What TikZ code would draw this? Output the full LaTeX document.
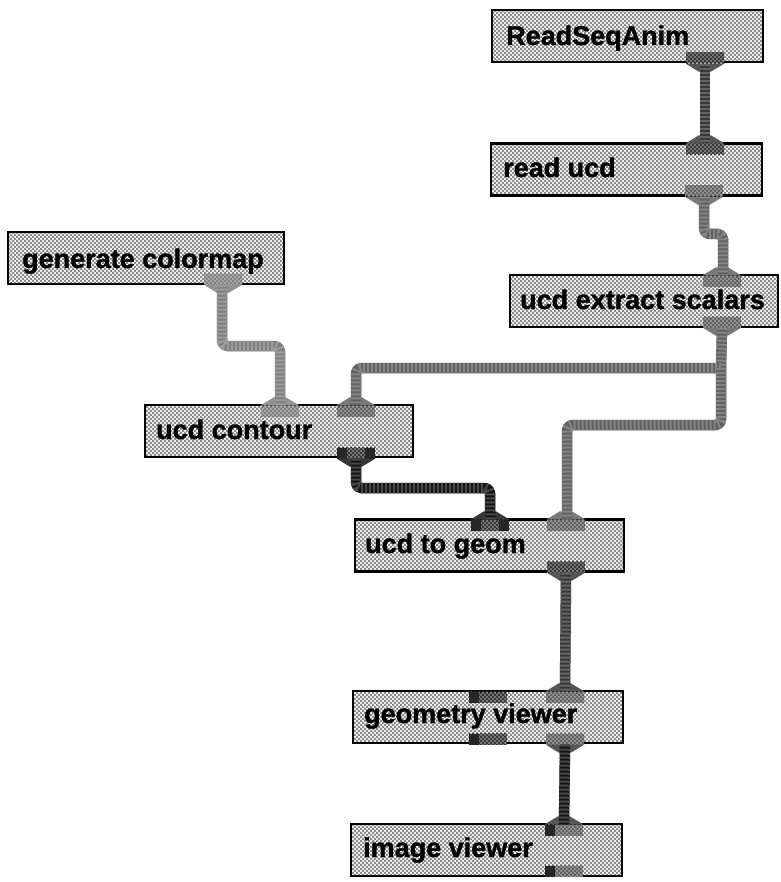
\documentclass[tikz,border=0pt]{standalone}
\usepackage{fontspec}
\setmainfont[BoldFeatures={FakeBold=1.2}]{Liberation Sans}
\usetikzlibrary{patterns,calc}
\pgfdeclarepatternformonly{dith}{\pgfqpoint{-0.1pt}{-0.1pt}}{\pgfqpoint{4.1pt}{4.1pt}}{\pgfqpoint{4pt}{4pt}}{%
  \pgfpathrectangle{\pgfqpoint{0pt}{0pt}}{\pgfqpoint{2pt}{2pt}}%
  \pgfpathrectangle{\pgfqpoint{2pt}{2pt}}{\pgfqpoint{2pt}{2pt}}%
  \pgfusepath{fill}}
\definecolor{boxbg}{gray}{0.98}
\definecolor{boxdot}{gray}{0.55}
\definecolor{wdark}{gray}{0.22}
\definecolor{wmid}{gray}{0.38}
\definecolor{wlight}{gray}{0.50}
\definecolor{wblack}{gray}{0.08}
\tikzset{
  x=1pt,y=-1pt,
  modbox/.style={draw=black,line width=2.5pt,minimum height=52pt,inner sep=0pt,
    preaction={fill=boxbg},pattern=dith,pattern color=boxdot},
  modlabel/.style={anchor=base west,inner sep=0pt,font=\fontsize{27}{27}\selectfont\bfseries,text=black},
  portbox/.style={draw=none,minimum width=38pt,minimum height=11pt,inner sep=0pt,
    preaction={fill=#1!65!white},pattern=dith,pattern color=#1},
  leftdark/.style={path picture={\fill[black!85] (path picture bounding box.north west) rectangle ++(10,11);}},
  bothdark/.style={path picture={\fill[black!85] (path picture bounding box.north west) rectangle ++(10,11);
     \fill[black!85] (path picture bounding box.south east) rectangle ++(-10,-11);}},
  wire/.style={line width=10.5pt,rounded corners=5pt,line join=round,draw=#1,
    postaction={draw=#1!78!white,dash pattern=on 2pt off 2pt}},
}
\newcommand{\flareup}[2]{\fill[#2!85!white] (#1.north west) -- ++(13,-8) -- ++(12,0) -- (#1.north east) -- cycle;}
\newcommand{\flaredn}[2]{\fill[#2!85!white] (#1.south west) -- ++(13,8) -- ++(12,0) -- (#1.south east) -- cycle;}
\begin{document}
\begin{tikzpicture}
\useasboundingbox (0,0) rectangle (780,882);
% modules
\node[modbox,minimum width=271pt] (rsa) at (627.5,36) {};
\node[modbox,minimum width=271pt] (rucd) at (626.5,169.5) {};
\node[modbox,minimum width=268pt] (ues) at (644,301) {};
\node[modbox,minimum width=276pt] (gcm) at (146,258) {};
\node[modbox,minimum width=268pt] (uc) at (279,431) {};
\node[modbox,minimum width=269pt] (utg) at (489.5,545.5) {};
\node[modbox,minimum width=270pt] (gv) at (488,717) {};
\node[modbox,minimum width=271pt] (iv) at (486.5,850) {};
% ports
\node[portbox=wdark] (rsaO) at (705,58) {};
\node[portbox=wdark] (rucdI) at (705,149) {};
\node[portbox=wmid] (rucdO) at (704,191) {};
\node[portbox=wmid] (uesI) at (722,281) {};
\node[portbox=wmid] (uesO) at (722,322) {};
\node[portbox=wlight] (gcmO) at (223,279) {};
\node[portbox=wlight] (ucI) at (280,411) {};
\node[portbox=wmid] (ucJ) at (356,411) {};
\node[portbox=wdark,bothdark] (ucO) at (356,453) {};
\node[portbox=wdark,bothdark] (utgI) at (490,525) {};
\node[portbox=wmid] (utgJ) at (566,525) {};
\node[portbox=wdark] (utgO) at (566,567) {};
\node[portbox=wdark,leftdark] (gvK) at (488,697) {};
\node[portbox=wmid] (gvI) at (565,697) {};
\node[portbox=wdark,leftdark] (gvL) at (488,739) {};
\node[portbox=wmid] (gvO) at (565,739) {};
\node[portbox=wmid,leftdark] (ivI) at (564,830) {};
\node[portbox=wmid,leftdark] (ivO) at (564,871) {};
% labels
\node[modlabel] (trsa) at (506,45) {ReadSeqAnim};
\node[modlabel] (trucd) at (503,177) {read ucd};
\node[modlabel] (tues) at (520,309) {ucd extract scalars};
\node[modlabel] (tgcm) at (22,268) {generate colormap};
\node[modlabel] (tuc) at (156,439) {ucd contour};
\node[modlabel] (tutg) at (365,553) {ucd to geom};
\node[modlabel] (tgv) at (364,723) {geometry viewer};
\node[modlabel] (tiv) at (363,857) {image viewer};
\coordinate (fork) at (721,368);
% flares
\flaredn{rsaO}{wdark} \flareup{rucdI}{wdark}
\flaredn{rucdO}{wmid} \flareup{uesI}{wmid}
\flaredn{uesO}{wmid} \flaredn{gcmO}{wlight} \flareup{ucI}{wlight}
\flareup{ucJ}{wmid} \flaredn{ucO}{wblack} \flareup{utgI}{wblack}
\flareup{utgJ}{wmid} \flaredn{utgO}{wdark} \flareup{gvI}{wdark}
\flaredn{gvO}{wdark} \flareup{ivI}{wdark}
% connectors
\draw[wire=wdark] (rsaO.south) -- (rucdI.north);
\draw[wire=wmid] (rucdO.south) -- (704,234) -- (723,234) -- (uesI.north -| 723,0);
\draw[wire=wmid] (uesO.south) -- (fork);
\draw[wire=wmid] (fork) -- (356,368) -- (ucJ.north);
\draw[wire=wmid] (fork) -- (721,425) -- (567,425) -- (utgJ.north -| 567,0);
\draw[wire=wlight] (gcmO.south -| 222,0) -- (222,346) -- (280,346) -- (ucI.north);
\draw[wire=wblack] (ucO.south) -- (356,488) -- (490,488) -- (utgI.north);
\draw[wire=wdark] (utgO.south) -- (gvI.north);
\draw[wire=wblack] (gvO.south) -- (ivI.north);
\end{tikzpicture}
\end{document}
